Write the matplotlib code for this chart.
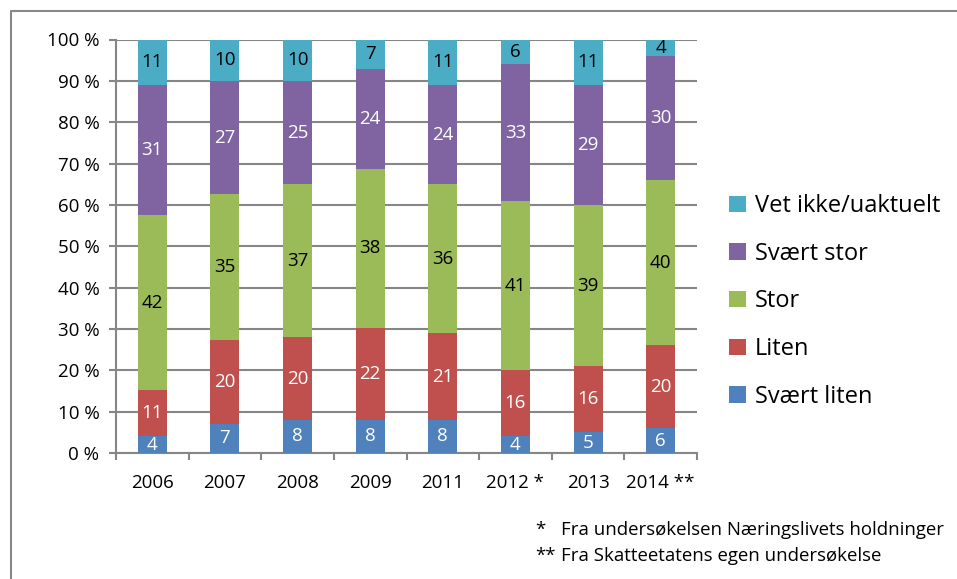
import matplotlib.pyplot as plt
import matplotlib.lines as mlines
import numpy as np

plt.rcParams['font.family'] = ['Open Sans', 'DejaVu Sans']

years = ['2006', '2007', '2008', '2009', '2011', '2012 *', '2013', '2014 **']
series_names = ['Svært liten', 'Liten', 'Stor', 'Svært stor', 'Vet ikke/uaktuelt']
svaert_liten = [4, 7, 8, 8, 8, 4, 5, 6]
liten = [11, 20, 20, 22, 21, 16, 16, 20]
stor = [42, 35, 37, 38, 36, 41, 39, 40]
svaert_stor = [31, 27, 25, 24, 24, 33, 29, 30]
vet_ikke = [11, 10, 10, 7, 11, 6, 11, 4]
y_ticks = [0, 10, 20, 30, 40, 50, 60, 70, 80, 90, 100]
footnotes = ['Fra undersøkelsen Næringslivets holdninger', 'Fra Skatteetatens egen undersøkelse']
footnote_marks = ['*', '**']

colors = ['#4F81BD', '#C0504D', '#9BBB59', '#8064A2', '#4BACC6']
label_colors = ['white', 'white', 'black', 'white', 'black']

W, H = 957, 579
fig = plt.figure(figsize=(W / 100, H / 100), dpi=100)
ax = fig.add_axes([116 / W, 1 - 453 / H, (697 - 116) / W, (453 - 39.5) / H])

data = np.array([svaert_liten, liten, stor, svaert_stor, vet_ikke], dtype=float)
pct = data / data.sum(axis=0) * 100
x = np.arange(len(years))
bottom = np.zeros(len(years))
handles = []
for i, name in enumerate(series_names):
    b = ax.bar(x, pct[i], 0.4, bottom=bottom, color=colors[i], label=name,
               zorder=3, linewidth=0)
    handles.append(b)
    for j in range(len(years)):
        ax.text(x[j], bottom[j] + pct[i][j] / 2, str(int(data[i][j])),
                ha='center', va='center', fontsize=13.5, color=label_colors[i],
                zorder=4)
    bottom += pct[i]

ax.set_xlim(-0.5, len(years) - 0.5)
ax.set_ylim(0, 100)
ax.set_yticks(y_ticks)
ax.set_yticklabels([f'{t} %' for t in y_ticks])
ax.set_xticks(x)
ax.set_xticklabels(years)
ax.set_xticks(np.arange(-0.5, len(years)), minor=True)
ax.tick_params(axis='x', which='major', length=0, pad=15, labelsize=13.5)
ax.tick_params(axis='x', which='minor', length=5, width=1.5, color='#868686')
ax.tick_params(axis='y', length=5, width=1.5, color='#868686', pad=7, labelsize=13.5)
ax.grid(axis='y', color='#868686', linewidth=1.5, zorder=0)
for s in ['top', 'right']:
    ax.spines[s].set_visible(False)
for s in ['left', 'bottom']:
    ax.spines[s].set_color('#868686')
    ax.spines[s].set_linewidth(1.5)

leg = fig.legend(handles[::-1], series_names[::-1], loc='upper left',
                 bbox_to_anchor=(708 / W, 1 - 173 / H), frameon=False,
                 fontsize=17, handlelength=0.7, handleheight=0.7,
                 handletextpad=0.4, labelspacing=1.0)

for k, (mark, note) in enumerate(zip(footnote_marks, footnotes)):
    yy = 1 - (530 + 26 * k) / H
    fig.text(535 / W, yy, mark, fontsize=13.4, va='center', ha='left')
    fig.text(561 / W, yy, note, fontsize=13.4, va='center', ha='left')

fig.add_artist(mlines.Line2D([10.5 / W, 10.5 / W, 1], [0, 1 - 10.5 / H, 1 - 10.5 / H],
                             transform=fig.transFigure, color='#888888', linewidth=1.5))

fig.savefig('out.png', dpi=100)
